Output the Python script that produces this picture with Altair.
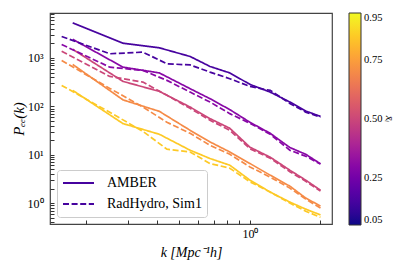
import altair as alt
import pandas as pd

# wavenumbers (Mpc^-1 h)
k_amber = [0.175, 0.287, 0.41, 0.555, 0.675, 0.82, 1.0, 1.22, 1.48, 1.73, 2.0]
k_rad = [0.157, 0.252, 0.349, 0.442, 0.555, 0.675, 0.82, 1.0, 1.22, 1.48, 1.73, 2.0]

# colour value of each pair of curves
f_values = [0.15, 0.3, 0.5, 0.7, 0.85]

# AMBER (solid)
amber_1 = [5320, 2020, 1622, 1074, 668, 491, 284, 197, 123, 80, 62]
amber_2 = [2430, 646, 491, 232, 144, 85.5, 46.8, 27.7, 14.1, 10.2, 6.5]
amber_3 = [1511, 328, 204, 96.8, 55.7, 35.2, 14.3, 8.9, 4.79, 2.98, 1.85]
amber_4 = [735, 136, 78.9, 32, 18.4, 11.4, 6.58, 3.78, 2.24, 1.27, 0.87]
amber_5 = [214, 44, 26.5, 12.4, 8.35, 6.08, 2.98, 1.69, 1.05, 0.75, 0.57]

# RadHydro, Sim1 (dashed)
rad_1 = [2775, 1221, 1318, 760, 717, 510, 373, 258, 214, 115, 76, 60]
rad_2 = [1898, 646, 552, 344, 197, 123, 70.7, 44.6, 26.5, 12.4, 9.3, 6.4]
rad_3 = [1380, 415, 317, 169, 91, 51.5, 32, 13.3, 8.47, 4.46, 2.84, 1.77]
rad_4 = [888, 235, 96.8, 46.8, 27.7, 15.7, 10.2, 5.6, 3.44, 2.04, 1.21, 0.79]
rad_5 = [271, 75.2, 30.5, 13, 11.4, 6.58, 5.27, 2.75, 1.69, 1.0, 0.68, 0.51]

sim_names = ["AMBER", "RadHydro, Sim1"]
amber_series = [amber_1, amber_2, amber_3, amber_4, amber_5]
rad_series = [rad_1, rad_2, rad_3, rad_4, rad_5]

x_ticks = [0.2, 0.3, 0.4, 0.5, 0.6, 0.7, 0.8, 0.9, 1, 2]
y_ticks = [0.4, 0.5, 0.6, 0.7, 0.8, 0.9, 1, 2, 3, 4, 5, 6, 7, 8, 9,
           10, 20, 30, 40, 50, 60, 70, 80, 90, 100, 200, 300, 400, 500, 600, 700, 800, 900,
           1000, 2000, 3000, 4000, 5000, 6000, 7000, 8000]
cbar_ticks = [0.05, 0.25, 0.5, 0.75, 0.95]

rows = []
for i, (f, s) in enumerate(zip(f_values, amber_series)):
    for k, p in zip(k_amber, s):
        rows.append({"k": k, "P": p, "f": f, "sim": sim_names[0], "sid": f"a{i}"})
for i, (f, s) in enumerate(zip(f_values, rad_series)):
    for k, p in zip(k_rad, s):
        rows.append({"k": k, "P": p, "f": f, "sim": sim_names[1], "sid": f"r{i}"})
df = pd.DataFrame(rows)

FONT = "Liberation Serif"

y_label_expr = ("datum.value == 1 ? '10⁰' : datum.value == 10 ? '10¹' : "
                "datum.value == 100 ? '10²' : datum.value == 1000 ? '10³' : ''")

chart = alt.Chart(df).mark_line(strokeWidth=1.7, clip=True).encode(
    x=alt.X("k:Q",
            scale=alt.Scale(type="log", domain=[0.14, 2.24], nice=False),
            axis=alt.Axis(values=x_ticks, labelExpr="datum.value == 1 ? '10⁰' : ''",
                          title="k [Mpc⁻¹h]", titleFontStyle="italic", titleFontSize=14,
                          titlePadding=6, offset=-4, tickSize=4, labelPadding=4,
                          labelFontSize=12)),
    y=alt.Y("P:Q",
            scale=alt.Scale(type="log", domain=[0.37, 8500], nice=False),
            axis=alt.Axis(values=y_ticks, labelExpr=y_label_expr,
                          title="Pₑₑ(k)", titleFontStyle="italic", titleFontSize=15,
                          titleX=-36, titleBaseline="middle", titleAngle=270,
                          offset=-4, tickSize=4, labelPadding=7, labelFontSize=12)),
    color=alt.Color("f:Q",
                    scale=alt.Scale(scheme="plasma", domain=[0.05, 0.95]),
                    legend=alt.Legend(orient="none", legendX=299, legendY=0,
                                      direction="vertical", gradientLength=212,
                                      gradientThickness=12, gradientStrokeColor="#333",
                                      gradientStrokeWidth=1, values=cbar_ticks,
                                      format=".2f", labelFontSize=10.5, labelOffset=3,
                                      labelOverlap=False,
                                      title="x̄ᵢ", titleOrient="right",
                                      titleFontSize=11, titleFontWeight="normal",
                                      titleFontStyle="italic", titlePadding=2)),
    strokeDash=alt.StrokeDash("sim:N",
                              scale=alt.Scale(domain=sim_names, range=[[1, 0], [6, 2.6]]),
                              legend=alt.Legend(orient="none", legendX=7, legendY=157,
                                                title=None, symbolType="stroke",
                                                symbolSize=961, symbolStrokeColor="#46039f",
                                                symbolStrokeWidth=2, labelFontSize=14,
                                                labelOffset=12, padding=5, rowPadding=5,
                                                clipHeight=16, fillColor="white",
                                                strokeColor="#cccccc", cornerRadius=3)),
    detail="sid:N",
).properties(
    width=282, height=211,
    autosize=alt.AutoSizeParams(type="none"),
    padding={"left": 42, "top": 5, "right": 75, "bottom": 38},
).configure_view(
    stroke="#444", strokeWidth=1.2
).configure_axis(
    grid=False, domain=False, labelFont=FONT, titleFont=FONT,
    tickColor="#333", labelColor="black", titleColor="black", titleFontWeight="normal"
).configure_legend(
    labelFont=FONT, titleFont=FONT, labelColor="black", titleColor="black"
)

chart.save("out.html", embed_options={"renderer": "svg", "actions": False})
